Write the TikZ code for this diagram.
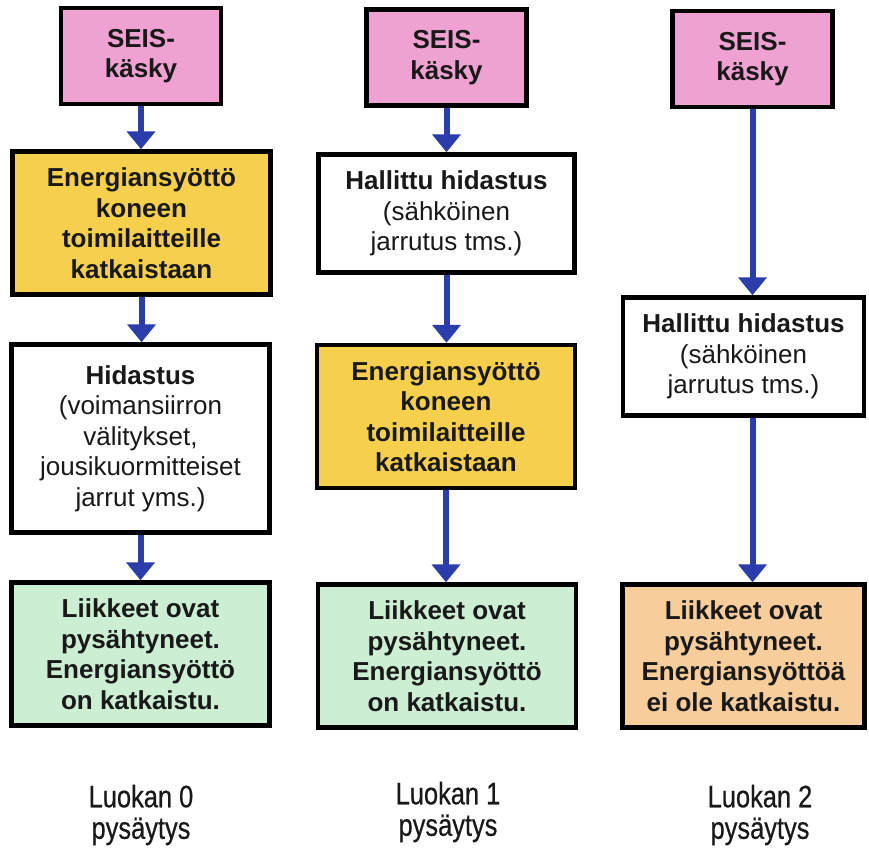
\documentclass[tikz,border=0pt]{standalone}
\usepackage{fontspec}
\setmainfont{Liberation Sans}
\newfontfamily\narrowfont[FakeStretch=0.82,FakeBold=0.5]{Liberation Sans}
\usetikzlibrary{arrows.meta}
\definecolor{pinkfill}{HTML}{EFA2D2}
\definecolor{yellowfill}{HTML}{F6D04D}
\definecolor{greenfill}{HTML}{CCEED2}
\definecolor{orangefill}{HTML}{F7CD9B}
\definecolor{arrowblue}{HTML}{2B3DAA}
\begin{document}
\begin{tikzpicture}[x=1pt,y=-1pt,
  box/.style={draw=black, line width=4.5pt, inner sep=0pt, align=center,
    text=black!90, font=\fontsize{26}{30.5}\selectfont},
  seisbox/.style={box, fill=pinkfill, minimum width=160pt, minimum height=96pt},
  energybox/.style={box, fill=yellowfill, minimum width=258pt, minimum height=143pt},
  slowbox/.style={box, fill=white, minimum width=258pt, minimum height=188pt},
  ctrlbox/.style={box, fill=white, minimum width=256pt, minimum height=118pt},
  ctrlboxnarrow/.style={box, fill=white, minimum width=241pt, minimum height=118pt},
  donebox/.style={box, fill=greenfill, minimum width=258pt, minimum height=143pt},
  openbox/.style={box, fill=orangefill, minimum width=242pt, minimum height=143pt},
  caption/.style={align=center, inner sep=0pt, text=black!90,
    font=\narrowfont\fontsize{31}{31.5}\selectfont},
  flow/.style={draw=arrowblue, line width=6pt, -{Triangle[width=28pt,length=18pt]}}]
\useasboundingbox[fill=white] (0,0) rectangle (869,847);

% column 1
\node[seisbox] (s1) at (141,56) {\textbf{SEIS-}\\\textbf{käsky}};
\node[energybox] (e1) at (141.5,223) {\textbf{Energiansyöttö}\\\textbf{koneen}\\\textbf{toimilaitteille}\\\textbf{katkaistaan}};
\node[slowbox] (h1) at (140.5,438.5) {\textbf{Hidastus}\\(voimansiirron\\välitykset,\\jousikuormitteiset\\jarrut yms.)};
\node[donebox] (g1) at (140.5,654) {\textbf{Liikkeet ovat}\\\textbf{pysähtyneet.}\\\textbf{Energiansyöttö}\\\textbf{on katkaistu.}};
\node[caption] (c1) at (141,815) {Luokan 0\\pysäytys};

% column 2
\node[seisbox] (s2) at (446.5,57.5) {\textbf{SEIS-}\\\textbf{käsky}};
\node[ctrlbox] (hh2) at (446.5,213.5) {\textbf{Hallittu hidastus}\\(sähköinen\\jarrutus tms.)};
\node[energybox] (e2) at (446,416.5) {\textbf{Energiansyöttö}\\\textbf{koneen}\\\textbf{toimilaitteille}\\\textbf{katkaistaan}};
\node[donebox] (g2) at (447,656) {\textbf{Liikkeet ovat}\\\textbf{pysähtyneet.}\\\textbf{Energiansyöttö}\\\textbf{on katkaistu.}};
\node[caption] (c2) at (448,812) {Luokan 1\\pysäytys};

% column 3
\node[seisbox] (s3) at (752.5,59) {\textbf{SEIS-}\\\textbf{käsky}};
\node[ctrlboxnarrow] (hh3) at (743.5,356.5) {\textbf{Hallittu hidastus}\\(sähköinen\\jarrutus tms.)};
\node[openbox] (o3) at (743.5,656) {\textbf{Liikkeet ovat}\\\textbf{pysähtyneet.}\\\textbf{Energiansyöttöä}\\\textbf{ei ole katkaistu.}};
\node[caption] (c3) at (760,815) {Luokan 2\\pysäytys};

% connectors
\draw[flow] (s1.south) -- (s1.south |- e1.north);
\draw[flow] (e1.south) -- (e1.south |- h1.north);
\draw[flow] (h1.south) -- (h1.south |- g1.north);
\draw[flow] (s2.south) -- (s2.south |- hh2.north);
\draw[flow] (hh2.south) -- (hh2.south |- e2.north);
\draw[flow] (e2.south) -- (e2.south |- g2.north);
\draw[flow] (s3.south) -- (s3.south |- hh3.north);
\draw[flow] (s3.south |- hh3.south) -- (s3.south |- o3.north);
\end{tikzpicture}
\end{document}
